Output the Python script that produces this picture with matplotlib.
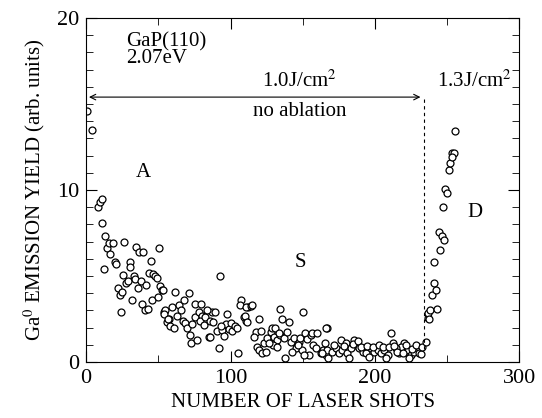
import matplotlib.pyplot as plt
from matplotlib.ticker import MultipleLocator

plt.rcParams['font.family'] = ['Liberation Serif', 'DejaVu Serif']
plt.rcParams['mathtext.fontset'] = 'stix'

# shots 0-55
x1 = [0.5, 4, 8.5, 9.7, 10.9, 11.3, 13.2, 14.4, 15.5, 16.7, 18.3, 12.5, 19.7, 20.8,
      26.4, 21.8, 23.1, 24.8, 24.1, 25.5, 27.5, 28.9, 30.1, 30.6, 31.7, 32.9, 33.6,
      35.9, 34.7, 36.3, 38, 39.3, 38.7, 40.5, 41.7, 42.8, 43.8, 44.9, 45.6, 46.3,
      47.9, 49, 49.8, 50.7, 51.4, 52.5, 53.7]
y1 = [14.6, 13.5, 9.0, 9.3, 9.5, 8.06, 7.3, 6.6, 6.9, 6.3, 6.9, 5.4, 5.8, 5.7,
      7.0, 4.3, 3.9, 4.05, 2.9, 5.06, 4.6, 4.7, 5.8, 5.5, 3.6, 5.0, 4.8,
      4.3, 6.7, 6.4, 4.7, 6.4, 3.4, 3.0, 4.5, 3.1, 5.2, 5.9, 3.6, 5.1,
      5.0, 4.9, 3.8, 6.6, 4.4, 4.2, 2.9]

# shots 52-112
x2 = [53.2, 61.8, 71, 92.6, 54.9, 54.2, 59.5, 64.1, 67.6, 65.7, 63, 57.2, 56, 58.3,
      60.6, 67.1, 68.8, 69.9, 71.8, 72.9, 76.8, 75.7, 79.6, 75.2, 78, 80.3, 78.7,
      81.5, 82.6, 85.6, 87.2, 89.1, 88, 84.9, 86.1, 90.3, 91.9, 94.2, 95.8, 97.7,
      97.2, 98.8, 100, 101.2, 102.8, 104.2, 105.1, 107.4, 106.5, 109.3, 111, 112,
      56.5, 73.5, 83.5, 93.5]
y2 = [4.2, 4.05, 4.0, 5.0, 3.0, 2.8, 3.2, 3.3, 3.6, 3.0, 2.7, 2.5, 2.3, 2.1,
      2.0, 2.4, 2.25, 1.96, 1.57, 1.09, 1.3, 3.4, 3.37, 2.6, 2.9, 2.7, 2.4,
      2.15, 2.6, 2.4, 2.9, 2.9, 2.3, 1.43, 1.43, 1.8, 0.83, 1.86, 1.51, 2.77,
      2.2, 1.9, 2.25, 1.8, 2.1, 2.0, 0.5, 3.6, 3.3, 2.6, 2.4, 3.2,
      2.5, 2.2, 3.0, 2.1]

# shots 108-168
x3 = [110.4, 114.4, 109.7, 111.6, 119.7, 134.3, 135.9, 140.5, 150.2, 166.7, 117.4,
      116.2, 120.8, 118.1, 119.7, 122, 124.3, 123.1, 125.5, 127.8, 128.9, 130.6,
      130, 131.9, 129.6, 132.4, 134.3, 137, 139.4, 141.7, 144, 145.1, 142.8, 137.5,
      147.5, 149.8, 148.1, 151.4, 153.2, 155.6, 157.4, 156.7, 159, 160.2, 162.5,
      164.4, 166, 167.6, 154.4, 150.9, 115, 126.5, 133.5, 146.5]
y3 = [3.2, 3.26, 2.67, 2.3, 2.5, 3.1, 2.5, 2.3, 2.9, 1.95, 1.76,
      1.47, 1.8, 0.89, 0.7, 0.5, 0.6, 1.09, 1.38, 1.76, 1.95, 2.0,
      1.47, 1.28, 0.99, 0.89, 1.57, 1.38, 1.76, 1.18, 1.38, 0.8, 0.6, 0.21,
      1.18, 0.7, 1.38, 1.67, 1.32, 1.57, 0.99, 1.67, 0.8, 1.7, 0.54,
      0.7, 0.41, 0.21, 0.41, 0.41, 3.3, 1.1, 1.7, 1.0]

# shots 163-233
x4 = [166, 165.3, 176.4, 179.9, 185.6, 186.8, 211.1, 212.3, 220.3, 218, 229.6,
      167.1, 170.6, 172.9, 175.2, 177.5, 181, 183.3, 182.2, 189.1, 191.5, 193.8,
      197.2, 199.5, 201.9, 204.2, 206.5, 208.8, 214.6, 216.9, 222.7, 225, 227.3,
      230.8, 163.7, 196, 207.6, 223.8, 171.5, 178.5, 184.5, 188, 190.5, 194.5,
      198.5, 203, 205.5, 210, 213.5, 215.5, 219.5, 221.5, 226, 228.5, 231.8, 232.6]
y4 = [1.96, 1.09, 1.28, 1.12, 1.28, 0.99, 1.67, 1.09, 1.12, 0.89, 0.89,
      0.7, 0.6, 0.8, 0.5, 0.7, 0.5, 0.8, 0.21, 0.8, 0.6, 0.5,
      0.8, 0.6, 0.7, 0.5, 0.7, 0.41, 0.8, 0.5, 0.7, 0.41, 0.6,
      0.5, 0.5, 0.31, 0.21, 0.21, 1.0, 0.95, 1.05, 1.2, 0.9, 0.95,
      0.9, 1.0, 0.85, 0.9, 0.95, 0.6, 0.55, 1.0, 0.75, 1.0, 0.45, 0.9]

# 1.3 J/cm2, shots 234-256
x5 = [235.4, 236.6, 237, 238.4, 243, 239.4, 240.8, 242.4, 241.2, 245.4, 244.7,
      246.3, 248.1, 247, 248.8, 250, 251.2, 252.3, 253.3, 254.6, 253.5, 255.6, 237.7]
y5 = [1.18, 2.54, 2.87, 3.02, 3.06, 3.9, 4.57, 4.19, 5.83, 6.5, 7.58,
      7.3, 7.1, 9.03, 10.04, 9.8, 11.16, 11.59, 12.17, 12.17, 11.94, 13.45, 2.48]

shots = x1 + x2 + x3 + x4 + x5
yields = y1 + y2 + y3 + y4 + y5

fig = plt.figure(figsize=(5.42, 4.18), dpi=100)
ax = fig.add_axes([0.159, 0.134, 0.799, 0.823])

ax.plot(shots, yields, 'o', mfc='white', mec='black', ms=5, mew=0.9)

ax.set_xlim(0, 300)
ax.set_ylim(0, 20)
ax.xaxis.set_major_locator(MultipleLocator(100))
ax.xaxis.set_minor_locator(MultipleLocator(50))
ax.yaxis.set_major_locator(MultipleLocator(10))
ax.yaxis.set_minor_locator(MultipleLocator(1))
ax.tick_params(which='both', direction='in', top=True, right=True, labelsize=16, pad=5)
ax.tick_params(which='major', length=8)
ax.tick_params(which='minor', length=5)

ax.set_xlabel('NUMBER OF LASER SHOTS', fontsize=15, labelpad=4)
ax.set_ylabel(r'Ga$^{0}$ EMISSION YIELD (arb. units)', fontsize=15, labelpad=7)

# fluence annotations
ax.annotate('', xy=(0, 15.4), xytext=(233.5, 15.4),
            arrowprops=dict(arrowstyle='<->', lw=0.8, color='black'))
ax.plot([233.8, 233.8], [15.3, 0.6], ls=(0, (3, 3)), lw=0.8, color='black')
ax.text(148, 15.7, r'1.0J/cm$^{2}$', fontsize=15, ha='center', va='bottom')
ax.text(148, 15.1, 'no ablation', fontsize=15, ha='center', va='top')
ax.text(269, 15.7, r'1.3J/cm$^{2}$', fontsize=15, ha='center', va='bottom')

ax.text(28, 19.2, 'GaP(110)\n2.07eV', fontsize=15, ha='left', va='top', linespacing=0.85)
ax.text(39.5, 11.0, 'A', fontsize=15, ha='center', va='center')
ax.text(148.5, 5.8, 'S', fontsize=15, ha='center', va='center')
ax.text(269, 8.7, 'D', fontsize=15, ha='center', va='center')

fig.savefig('out.png', dpi=100)
